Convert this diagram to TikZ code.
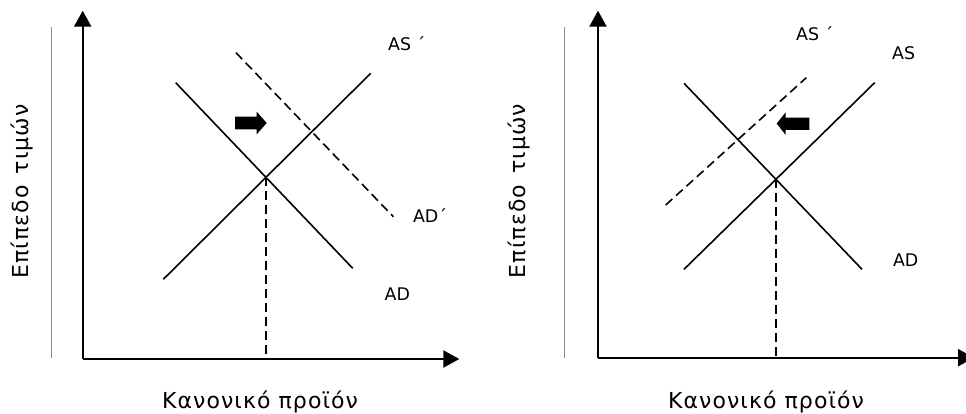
\documentclass[tikz,border=0pt]{standalone}
\usepackage{fontspec}
\setmainfont{DejaVu Sans}
\newfontfamily\axfont[LetterSpace=5]{DejaVu Sans}
\usetikzlibrary{arrows.meta}
\begin{document}
\begin{tikzpicture}[x=1pt,y=-1pt,
  axis/.style={line width=2.3pt,-{Triangle[length=16pt,width=17pt]}},
  curve/.style={line width=1.6pt},
  dcurve/.style={line width=1.6pt,dash pattern=on 9pt off 5pt},
  guide/.style={line width=1.4pt,dash pattern=on 9pt off 5pt},
  sep/.style={line width=1pt,draw=black!45},
  lbl/.style={inner sep=0pt,font=\fontsize{17.4}{21}\selectfont},
  axlbl/.style={inner sep=0pt,anchor=base,font=\axfont\fontsize{22}{26}\selectfont},
  blockarrow/.style={fill=black,draw=none}]
\useasboundingbox (0,0) rectangle (966,414);
% ---------- left panel ----------
\coordinate (Lo) at (82.7,359);
\coordinate (Lyt) at (82.7,10.7);
\coordinate (Lxt) at (459.3,359);
\draw[sep] (51.7,27) -- (51.7,358);
\draw[axis] (Lo) -- (Lyt);
\draw[axis] (Lo) -- (Lxt);
\coordinate (LAD1) at (175.7,82.7);
\coordinate (LAD2) at (352.7,268.3);
\coordinate (LAS1) at (163.3,279.3);
\coordinate (LAS2) at (370.7,73.3);
\coordinate (LADp1) at (236,52.7);
\coordinate (LADp2) at (393.3,216.7);
\draw[curve] (LAD1) -- (LAD2);
\draw[curve] (LAS1) -- (LAS2);
\draw[dcurve] (LADp1) -- (LADp2);
\coordinate (LE) at (intersection of LAD1--LAD2 and LAS1--LAS2);
\coordinate (LEb) at (LE |- Lo);
\draw[guide] (LE) -- (LEb);
\fill[blockarrow] (235,116.7) -- (256.7,116.7) -- (256.7,111.7) -- (266.7,123)
  -- (256.7,134.3) -- (256.7,129.3) -- (235,129.3) -- cycle;
\node[lbl] (lasp) at (406.7,43.3) {AS ´};
\node[lbl] (ladp) at (430,216) {AD´};
\node[lbl] (lad) at (397.3,294) {AD};
\node[axlbl] (lx) at (260,408.3) {Κανονικό προϊόν};
\node[axlbl,rotate=90] (ly) at (28.3,191.5) {Επίπεδο\hspace{0.5em}τιμών};
% ---------- right panel ----------
\coordinate (Ro) at (598,357.7);
\coordinate (Ryt) at (598,10.7);
\coordinate (Rxt) at (974,357.7);
\draw[sep] (564,27) -- (564,358);
\draw[axis] (Ro) -- (Ryt);
\draw[axis] (Ro) -- (Rxt);
\coordinate (RAD1) at (684,83.3);
\coordinate (RAD2) at (862,269.3);
\coordinate (RAS1) at (684,269.3);
\coordinate (RAS2) at (874.7,82.7);
\coordinate (RASp1) at (665.7,205);
\coordinate (RASp2) at (806.3,77.7);
\draw[curve] (RAD1) -- (RAD2);
\draw[curve] (RAS1) -- (RAS2);
\draw[dcurve] (RASp1) -- (RASp2);
\coordinate (RE) at (intersection of RAD1--RAD2 and RAS1--RAS2);
\coordinate (REb) at (RE |- Ro);
\draw[guide] (RE) -- (REb);
\fill[blockarrow] (809.3,117.7) -- (785.7,117.7) -- (785.7,112.3) -- (776.7,123.5)
  -- (785.7,135) -- (785.7,130) -- (809.3,130) -- cycle;
\node[lbl] (rasp) at (814.7,33.3) {AS ´};
\node[lbl] (ras) at (903.7,52.7) {AS};
\node[lbl] (rad) at (905.7,260) {AD};
\node[axlbl] (rx) at (766,408.3) {Κανονικό προϊόν};
\node[axlbl,rotate=90] (ry) at (525.7,191) {Επίπεδο\hspace{0.5em}τιμών};
\end{tikzpicture}
\end{document}
